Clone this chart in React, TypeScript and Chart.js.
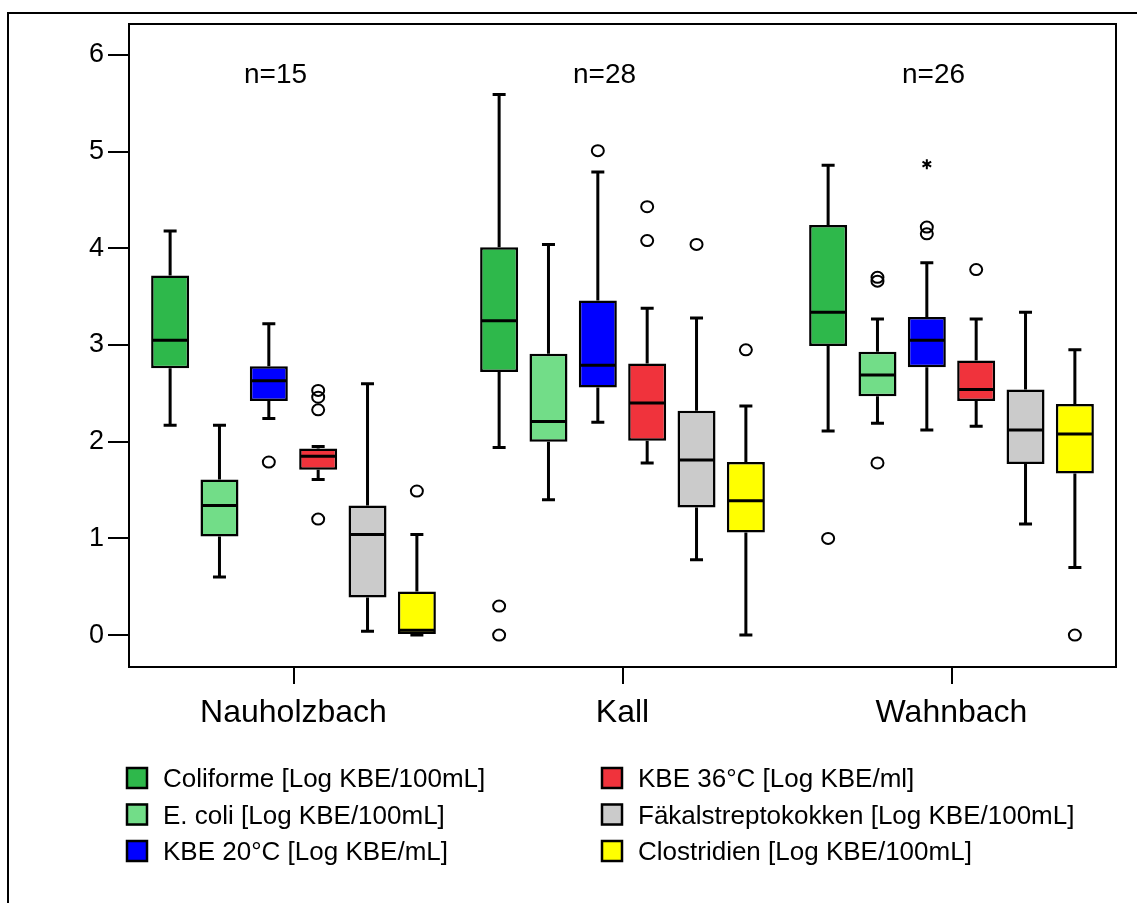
import React, { useEffect, useRef } from 'react';
import { Chart, registerables } from 'chart.js';

Chart.register(...registerables);

// ---------- data ----------
const categories = ['Nauholzbach', 'Kall', 'Wahnbach'];
const sampleSizes = ['n=15', 'n=28', 'n=26'];
const yTicks = [0, 1, 2, 3, 4, 5, 6];

const seriesLabels = [
  'Coliforme [Log KBE/100mL]',
  'E. coli [Log KBE/100mL]',
  'KBE 20°C [Log KBE/mL]',
  'KBE 36°C [Log KBE/ml]',
  'Fäkalstreptokokken [Log KBE/100mL]',
  'Clostridien [Log KBE/100mL]',
];
const seriesColors = ['#2eb84b', '#72dd88', '#0000ff', '#f0333c', '#cbcbcb', '#ffff00'];

// [series][category]
const whiskerLow = [
  [2.17, 1.94, 2.11],
  [0.6, 1.4, 2.19],
  [2.24, 2.2, 2.12],
  [1.61, 1.78, 2.16],
  [0.04, 0.78, 1.15],
  [0.0, 0.0, 0.7],
];
const quartile1 = [
  [2.76, 2.72, 2.99],
  [1.02, 2.0, 2.47],
  [2.42, 2.56, 2.77],
  [1.71, 2.01, 2.42],
  [0.39, 1.32, 1.77],
  [0.0, 1.06, 1.67],
];
const medians = [
  [3.05, 3.25, 3.34],
  [1.34, 2.21, 2.69],
  [2.63, 2.79, 3.05],
  [1.85, 2.4, 2.54],
  [1.04, 1.81, 2.12],
  [0.05, 1.39, 2.08],
];
const quartile3 = [
  [3.72, 4.01, 4.24],
  [1.61, 2.91, 2.93],
  [2.78, 3.46, 3.29],
  [1.93, 2.81, 2.84],
  [1.34, 2.32, 2.54],
  [0.45, 1.79, 2.39],
];
const whiskerHigh = [
  [4.18, 5.59, 4.86],
  [2.17, 4.04, 3.27],
  [3.22, 4.79, 3.85],
  [1.95, 3.38, 3.27],
  [2.6, 3.28, 3.34],
  [1.04, 2.37, 2.95],
];
const outliers = [
  [[], [0.3, 0.0], [1.0]],
  [[], [], [3.7, 3.66, 1.78]],
  [[1.79], [5.01], [4.22, 4.15]],
  [[2.53, 2.46, 2.33, 1.2], [4.43, 4.08], [3.78]],
  [[], [4.04], []],
  [[1.49], [2.95], [0.0]],
];
const extremes = [
  [[], [], []],
  [[], [], []],
  [[], [], [4.87]],
  [[], [], []],
  [[], [], []],
  [[], [], []],
];

const FONT = "'Liberation Sans', Arial, Helvetica, sans-serif";

const boxPlugin = {
  id: 'boxExtras',
  beforeDraw(chart: any) {
    const ctx = chart.ctx;
    ctx.save();
    ctx.fillStyle = '#ffffff';
    ctx.fillRect(0, 0, chart.width, chart.height);
    // outer frame (left and top)
    ctx.strokeStyle = '#000';
    ctx.lineWidth = 2;
    ctx.beginPath();
    ctx.moveTo(8, chart.height);
    ctx.lineTo(8, 13);
    ctx.lineTo(chart.width, 13);
    ctx.stroke();
    ctx.restore();
  },
  afterDatasetsDraw(chart: any) {
    const ctx = chart.ctx;
    const ys = chart.scales.y;
    const p = (v: number) => ys.getPixelForValue(v);
    ctx.save();
    ctx.strokeStyle = '#000';
    chart.data.datasets.forEach((_ds: any, i: number) => {
      const meta = chart.getDatasetMeta(i);
      meta.data.forEach((el: any, j: number) => {
        const x = el.x;
        const w = el.width;
        const cap = 6.5;
        ctx.lineWidth = 3;
        ctx.lineCap = 'butt';
        // upper whisker
        ctx.beginPath();
        ctx.moveTo(x, p(quartile3[i][j]));
        ctx.lineTo(x, p(whiskerHigh[i][j]));
        ctx.moveTo(x - cap, p(whiskerHigh[i][j]));
        ctx.lineTo(x + cap, p(whiskerHigh[i][j]));
        // lower whisker
        ctx.moveTo(x, p(quartile1[i][j]));
        ctx.lineTo(x, p(whiskerLow[i][j]));
        ctx.moveTo(x - cap, p(whiskerLow[i][j]));
        ctx.lineTo(x + cap, p(whiskerLow[i][j]));
        ctx.stroke();
        // median
        ctx.beginPath();
        ctx.moveTo(x - w / 2 + 1, p(medians[i][j]));
        ctx.lineTo(x + w / 2 - 1, p(medians[i][j]));
        ctx.stroke();
        // outliers
        ctx.lineWidth = 2;
        outliers[i][j].forEach((v: number) => {
          ctx.beginPath();
          ctx.ellipse(x, p(v), 6, 5.5, 0, 0, Math.PI * 2);
          ctx.stroke();
        });
        // extremes (asterisk)
        extremes[i][j].forEach((v: number) => {
          const cy = p(v);
          const r = 5;
          ctx.beginPath();
          for (let k = 0; k < 3; k++) {
            const a = Math.PI / 2 + (k * Math.PI) / 3;
            ctx.moveTo(x + r * Math.cos(a), cy + r * Math.sin(a));
            ctx.lineTo(x - r * Math.cos(a), cy - r * Math.sin(a));
          }
          ctx.stroke();
        });
      });
    });
    ctx.restore();
  },
  afterDraw(chart: any) {
    const ctx = chart.ctx;
    const area = chart.chartArea;
    const xs = chart.scales.x;
    const ys = chart.scales.y;
    ctx.save();
    // top and right plot border
    ctx.strokeStyle = '#000';
    ctx.lineWidth = 2;
    ctx.beginPath();
    ctx.moveTo(area.left, area.top);
    ctx.lineTo(area.right, area.top);
    ctx.lineTo(area.right, area.bottom);
    ctx.stroke();
    // n labels
    ctx.fillStyle = '#000';
    ctx.font = `28px ${FONT}`;
    ctx.textAlign = 'center';
    ctx.textBaseline = 'alphabetic';
    sampleSizes.forEach((t, i) => {
      ctx.fillText(t, xs.getPixelForValue(i) - 18, ys.getPixelForValue(5.71));
    });
    // legend
    ctx.font = `26px ${FONT}`;
    ctx.textAlign = 'left';
    chart.data.datasets.forEach((ds: any, i: number) => {
      const col = i < 3 ? 0 : 1;
      const row = i % 3;
      const bx = col === 0 ? 126 : 601;
      const by = 767 + row * 36.5;
      ctx.fillStyle = ds.backgroundColor;
      ctx.fillRect(bx, by, 22, 22);
      ctx.lineWidth = 2.5;
      ctx.strokeStyle = '#000';
      ctx.strokeRect(bx + 1, by + 1, 20, 20);
      ctx.fillStyle = '#000';
      ctx.fillText(ds.label, bx + 37, by + 20);
    });
    ctx.restore();
  },
};

export default function App() {
  const ref = useRef<HTMLCanvasElement>(null);
  useEffect(() => {
    const canvas = ref.current;
    if (!canvas) return;
    const chart = new Chart(canvas, {
      type: 'bar',
      data: {
        labels: categories,
        datasets: seriesLabels.map((label, i) => ({
          label,
          data: categories.map((_c, j) => [quartile1[i][j], quartile3[i][j]]),
          backgroundColor: seriesColors[i],
          borderColor: '#000',
          borderWidth: 2.5,
          borderSkipped: false,
          inflateAmount: 0,
          categoryPercentage: 0.9,
          barPercentage: 0.77,
        })),
      } as any,
      options: {
        responsive: false,
        animation: false,
        events: [],
        layout: { padding: { left: 0, top: 24, right: 21, bottom: 0 } },
        plugins: {
          legend: { display: false },
          tooltip: { enabled: false },
          title: { display: false },
        },
        scales: {
          x: {
            type: 'category',
            offset: true,
            grid: {
              display: true,
              offset: false,
              drawOnChartArea: false,
              drawTicks: true,
              tickLength: 17,
              lineWidth: 2,
              color: '#000',
            },
            border: { display: true, width: 2, color: '#000' },
            ticks: {
              color: '#000',
              font: { family: FONT, size: 32 },
              padding: 10,
              maxRotation: 0,
              autoSkip: false,
            },
            afterFit: (s: any) => {
              s.height = 236;
            },
          },
          y: {
            type: 'linear',
            min: -0.33,
            max: 6.32,
            afterBuildTicks: (s: any) => {
              s.ticks = yTicks.map((v) => ({ value: v }));
            },
            grid: {
              display: true,
              drawOnChartArea: false,
              drawTicks: true,
              tickLength: 21,
              lineWidth: 2,
              color: '#000',
            },
            border: { display: true, width: 2, color: '#000' },
            ticks: {
              color: '#000',
              font: { family: FONT, size: 27 },
              padding: 4,
              callback: (v: any) => String(v),
            },
            afterFit: (s: any) => {
              s.width = 129;
            },
          },
        },
      } as any,
      plugins: [boxPlugin],
    });
    return () => chart.destroy();
  }, []);
  return (
    <div style={{ position: 'absolute', left: 0, top: 0, width: 1137, height: 903, background: '#fff' }}>
      <canvas ref={ref} width={1137} height={903} style={{ display: 'block' }} />
    </div>
  );
}
